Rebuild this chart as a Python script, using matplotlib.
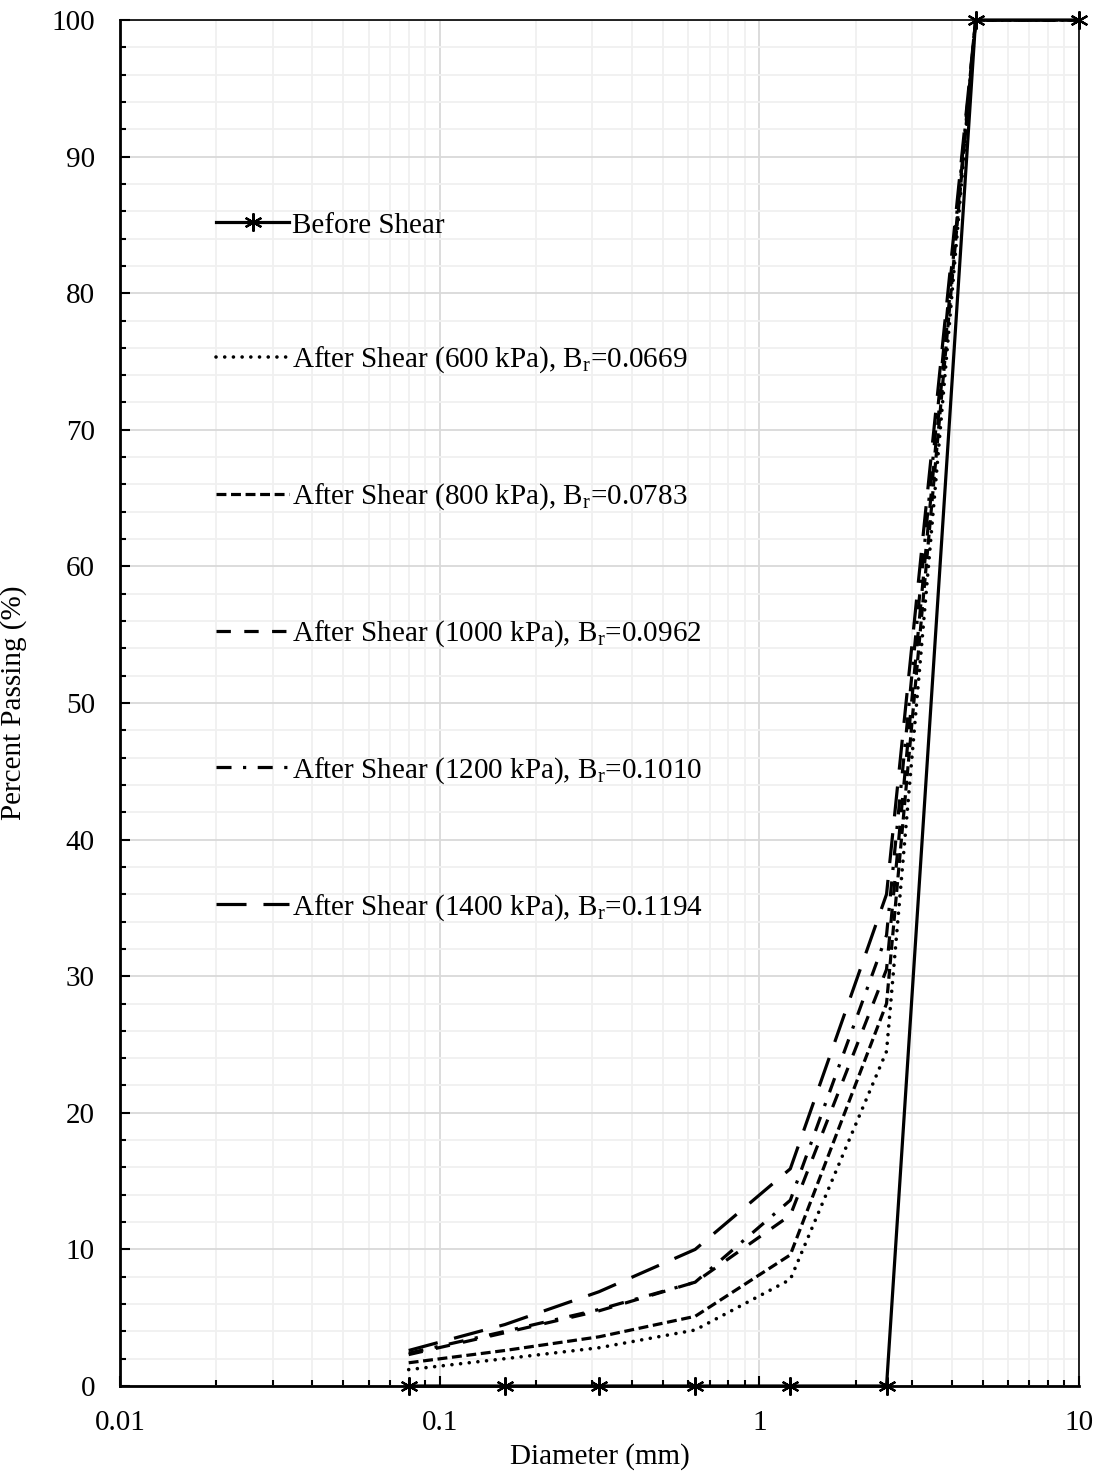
import matplotlib
matplotlib.use("Agg")
import matplotlib.pyplot as plt
from matplotlib.ticker import LogLocator, MultipleLocator, FixedLocator, FixedFormatter

plt.rcParams["font.family"] = ["Liberation Serif", "DejaVu Serif"]
plt.rcParams["mathtext.fontset"] = "custom"
plt.rcParams["mathtext.rm"] = "Liberation Serif"
plt.rcParams["mathtext.it"] = "Liberation Serif:italic"

# sieve sizes (mm)
diameter = [0.08, 0.16, 0.315, 0.63, 1.25, 2.5, 4.75, 10]

before_shear = [0, 0, 0, 0, 0, 0, 100, 100]
after_600 = [1.2, 2.0, 2.8, 4.1, 7.8, 24.5, 100, 100]
after_800 = [1.7, 2.6, 3.6, 5.1, 9.6, 28.0, 100, 100]
after_1000 = [2.3, 3.9, 5.5, 7.6, 12.5, 30.5, 100, 100]
after_1200 = [2.4, 4.0, 5.6, 7.6, 13.6, 33.0, 100, 100]
after_1400 = [2.6, 4.5, 6.9, 10.0, 15.9, 36.0, 100, 100]

labels = [
    "Before Shear",
    r"After Shear (600 kPa), B$_{\mathregular{r}}$=0.0669",
    r"After Shear (800 kPa), B$_{\mathregular{r}}$=0.0783",
    r"After Shear (1000 kPa), B$_{\mathregular{r}}$=0.0962",
    r"After Shear (1200 kPa), B$_{\mathregular{r}}$=0.1010",
    r"After Shear (1400 kPa), B$_{\mathregular{r}}$=0.1194",
]

FS = 21
LW = 2.3

fig = plt.figure(figsize=(10.99, 14.79), dpi=100)
ax = fig.add_axes([120 / 1099, 1 - 1386 / 1479, 959 / 1099, 1366 / 1479])

ax.plot(diameter, before_shear, color="black", lw=LW, marker=(6, 2, 0),
        markersize=13, markeredgewidth=1.6, label=labels[0], zorder=5,
        clip_on=False)
ax.plot(diameter, after_600, color="black", lw=LW + 0.3, ls=(0, (0.01, 2.4)),
        dash_capstyle="round", label=labels[1])
ax.plot(diameter, after_800, color="black", lw=LW, ls=(0, (3.1, 1.45)),
        label=labels[2])
ax.plot(diameter, after_1000, color="black", lw=LW, ls=(0, (4.5, 4.2)),
        label=labels[3])
ax.plot(diameter, after_1200, color="black", lw=LW, ls=(0, (4.7, 3.6, 1, 3.6)),
        label=labels[4])
ax.plot(diameter, after_1400, color="black", lw=LW, ls=(0, (9.4, 5.3)),
        label=labels[5])

ax.set_xscale("log")
ax.set_xlim(0.01, 10)
ax.set_ylim(0, 100)

ax.xaxis.set_major_locator(FixedLocator([0.01, 0.1, 1, 10]))
ax.xaxis.set_major_formatter(FixedFormatter(["0.01", "0.1", "1", "10"]))
ax.xaxis.set_minor_locator(LogLocator(base=10, subs=range(2, 10)))
ax.xaxis.set_minor_formatter(FixedFormatter([]))
ax.yaxis.set_major_locator(MultipleLocator(10))
ax.yaxis.set_minor_locator(MultipleLocator(2))

ax.grid(which="major", color="#d9d9d9", lw=1.3)
ax.grid(which="minor", color="#f0f0f0", lw=1.3)
ax.set_axisbelow(True)

ax.tick_params(which="both", direction="in", labelsize=FS, width=1.5,
               top=False, right=False)
ax.tick_params(which="major", length=7)
ax.tick_params(which="minor", length=4.5)
ax.tick_params(axis="y", pad=18)
ax.tick_params(axis="x", pad=17)

for side in ["left", "bottom", "top", "right"]:
    ax.spines[side].set_color("black")
ax.spines["left"].set_linewidth(2)
ax.spines["bottom"].set_linewidth(2)
ax.spines["top"].set_linewidth(1.2)
ax.spines["right"].set_linewidth(1.2)

ax.set_xlabel("Diameter (mm)", fontsize=FS)
ax.set_ylabel("Percent Passing (%)", fontsize=FS)
ax.xaxis.set_label_coords(0.5, -0.042)
ax.yaxis.set_label_coords(-0.097, 0.5)

ax.legend(loc="upper left", bbox_to_anchor=(0.085, 0.87), frameon=False,
          fontsize=FS, handlelength=2.5, handletextpad=0.1,
          labelspacing=3.64, numpoints=1, borderpad=0)

fig.savefig("out.png", dpi=100)
